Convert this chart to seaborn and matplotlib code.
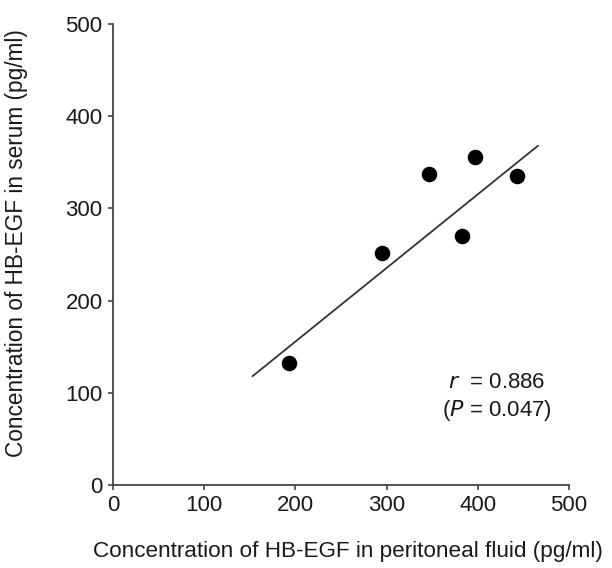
import pandas as pd
import seaborn as sns
import matplotlib.pyplot as plt

# values
peritoneal = [193, 295, 346, 383, 397, 443]
serum = [132, 252, 337, 270, 356, 335]
fit_x = [153, 466]
fit_y = [118, 368]
ticks = [0, 100, 200, 300, 400, 500]

sns.set_theme(style="ticks")
plt.rcParams['font.family'] = ['Liberation Sans', 'DejaVu Sans']

df = pd.DataFrame({'x': peritoneal, 'y': serum})
line = pd.DataFrame({'x': fit_x, 'y': fit_y})

fig = plt.figure(figsize=(6.12, 5.68), dpi=100)
ax = fig.add_axes([0.1846, 0.1461, 0.7451, 0.8116])

sns.lineplot(data=line, x='x', y='y', ax=ax, color='#333333', linewidth=1.3)
sns.scatterplot(data=df, x='x', y='y', ax=ax, color='black', s=125,
                edgecolor='black', linewidth=0, zorder=3)

ax.set_xlim(0, 500)
ax.set_ylim(0, 500)
ax.set_xticks(ticks)
ax.set_yticks(ticks)
ax.tick_params(labelsize=16, length=3.5, width=1.1, color='#333333',
               labelcolor='#1a1a1a', pad=4)
sns.despine(ax=ax)
for s in ['left', 'bottom']:
    ax.spines[s].set_color('#444444')
    ax.spines[s].set_linewidth(1.3)

ax.set_xlabel('Concentration of HB-EGF in peritoneal fluid (pg/ml)', fontsize=16.2,
              color='#1a1a1a')
ax.xaxis.set_label_coords(0.515, -0.122)
ax.set_ylabel('Concentration of HB-EGF in serum (pg/ml)', fontsize=16.3,
              color='#1a1a1a')
ax.yaxis.set_label_coords(-0.186, 0.525)

ax.text(421, 111, r'$\it{r}$  = 0.886', fontsize=16, ha='center', va='center',
        color='#1a1a1a')
ax.text(421, 81, r'($\it{P}$ = 0.047)', fontsize=16, ha='center', va='center',
        color='#1a1a1a')

fig.savefig('out.png', dpi=100)
